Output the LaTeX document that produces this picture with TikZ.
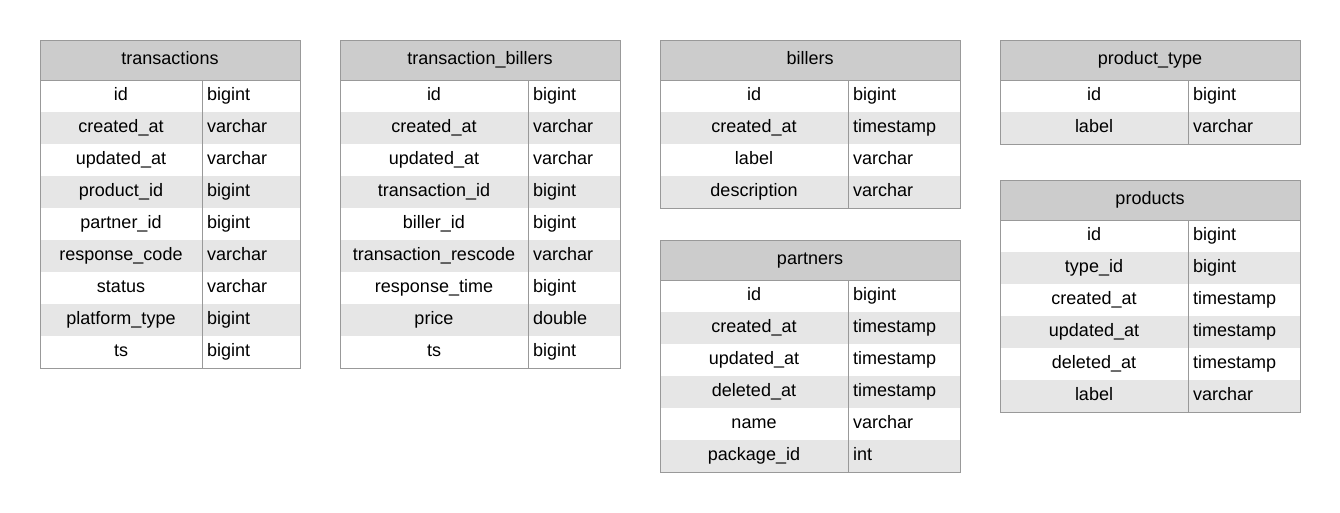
\documentclass[tikz,border=0pt]{standalone}
\usepackage{fontspec}
\setmainfont{Liberation Sans}
\definecolor{hdrgray}{HTML}{CCCCCC}
\definecolor{rowgray}{HTML}{E6E6E6}
\definecolor{linegray}{HTML}{999999}

\tikzset{
  cellbase/.style={rectangle, inner ysep=0pt, outer sep=0pt, text height=13pt, text depth=4pt, font=\fontsize{18pt}{21pt}\selectfont},
  hdr/.style={cellbase, fill=hdrgray, minimum height=40pt, inner xsep=0pt},
  namecell/.style={cellbase, minimum height=32pt, inner xsep=0pt},
  typecell/.style={cellbase, minimum height=32pt, inner xsep=5pt, align=left},
  tborder/.style={draw=linegray, line width=1pt},
}

% #1 id, #2 x, #3 y, #4 width, #5 name column width, #6 title, #7 rows, #8 row count
\newcommand{\dbtable}[8]{%
  \node[hdr, minimum width=#4pt, anchor=north west] (#1-h) at (#2,#3) {#6};
  \foreach [count=\i] \f/\t in {#7} {
    \ifodd\i\def\rowfill{white}\else\def\rowfill{rowgray}\fi
    \node[namecell, fill=\rowfill, minimum width=#5pt, anchor=north west]
      (#1-n\i) at ({#2},{#3+40+32*(\i-1)}) {\f};
    \pgfmathsetmacro{\tw}{#4-#5-10}
    \node[typecell, fill=\rowfill, text width=\tw pt, anchor=north west]
      (#1-t\i) at ({#2+#5},{#3+40+32*(\i-1)}) {\t};
  }
  \draw[tborder] (#1-h.north west) rectangle (#1-t#8.south east);
  \draw[tborder] (#1-h.south west) -- (#1-h.south east);
  \draw[tborder] (#1-t1.north west) -- (#1-t#8.south west);
}

\begin{document}
\begin{tikzpicture}[x=1pt,y=-1pt]
\useasboundingbox[fill=white] (0,0) rectangle (1340,512);

\dbtable{trx}{40}{40}{260}{162}{transactions}{
  id/bigint, created\_at/varchar, updated\_at/varchar, product\_id/bigint,
  partner\_id/bigint, response\_code/varchar, status/varchar,
  platform\_type/bigint, ts/bigint}{9}

\dbtable{tb}{340}{40}{280}{188}{transaction\_billers}{
  id/bigint, created\_at/varchar, updated\_at/varchar, transaction\_id/bigint,
  biller\_id/bigint, transaction\_rescode/varchar, response\_time/bigint,
  price/double, ts/bigint}{9}

\dbtable{bil}{660}{40}{300}{188}{billers}{
  id/bigint, created\_at/timestamp, label/varchar, description/varchar}{4}

\dbtable{par}{660}{240}{300}{188}{partners}{
  id/bigint, created\_at/timestamp, updated\_at/timestamp, deleted\_at/timestamp,
  name/varchar, package\_id/int}{6}

\dbtable{pt}{1000}{40}{300}{188}{product\_type}{
  id/bigint, label/varchar}{2}

\dbtable{prd}{1000}{180}{300}{188}{products}{
  id/bigint, type\_id/bigint, created\_at/timestamp, updated\_at/timestamp,
  deleted\_at/timestamp, label/varchar}{6}
\end{tikzpicture}
\end{document}
